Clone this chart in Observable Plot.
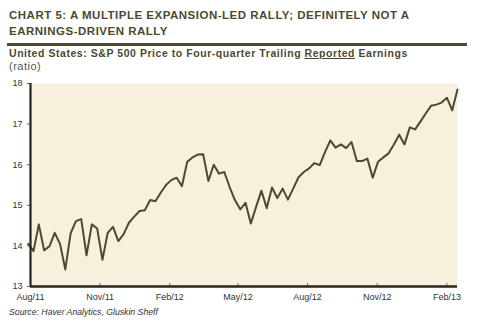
<!DOCTYPE html>
<html>
<head>
<meta charset="utf-8">
<script src="https://cdn.jsdelivr.net/npm/d3@7"></script>
<script src="https://cdn.jsdelivr.net/npm/@observablehq/plot@0.6"></script>
<style>
  html, body { margin: 0; padding: 0; background: #fff; }
  #wrap { position: relative; width: 478px; height: 323px; overflow: hidden; font-family: "Liberation Sans", Arial, sans-serif; }
  .t { position: absolute; white-space: nowrap; }
  #title { left: 9px; top: 8px; font-size: 11.5px; letter-spacing: 0.5px; font-weight: bold; color: #4b4a30; line-height: 15.5px; }
  #rule { position: absolute; left: 7px; top: 43px; width: 460px; height: 2.5px; background: #4b4a30; }
  #sub { left: 9px; top: 47px; font-size: 10.5px; letter-spacing: 0.55px; font-weight: bold; color: #4b4a30; }
  #unit { left: 9px; top: 60px; font-size: 11px; letter-spacing: 0.5px; color: #555; }
  #src { left: 9px; top: 307px; font-size: 8.7px; font-style: italic; color: #333; }
  #chart { position: absolute; left: 0; top: 70px; }
</style>
</head>
<body>
<div id="wrap">
  <div class="t" id="title">CHART 5: A MULTIPLE EXPANSION-LED RALLY; DEFINITELY NOT A<br>EARNINGS-DRIVEN RALLY</div>
  <div id="rule"></div>
  <div class="t" id="sub">United States: S&amp;P 500 Price to Four-quarter Trailing <u>Reported</u> Earnings</div>
  <div class="t" id="unit">(ratio)</div>
  <div id="chart"></div>
  <div class="t" id="src">Source: Haver Analytics, Gluskin Sheff</div>
</div>
<script>
const dates = [
  "2011-07-29","2011-08-05","2011-08-12","2011-08-19","2011-08-26","2011-09-02","2011-09-09","2011-09-16","2011-09-23","2011-09-30",
  "2011-10-07","2011-10-14","2011-10-21","2011-10-28","2011-11-04","2011-11-11","2011-11-18","2011-11-25","2011-12-02","2011-12-09",
  "2011-12-16","2011-12-23","2011-12-30","2012-01-06","2012-01-13","2012-01-20","2012-01-27","2012-02-03","2012-02-10","2012-02-17",
  "2012-02-24","2012-03-02","2012-03-09","2012-03-16","2012-03-23","2012-03-30","2012-04-06","2012-04-13","2012-04-20","2012-04-27",
  "2012-05-04","2012-05-11","2012-05-18","2012-05-25","2012-06-01","2012-06-08","2012-06-15","2012-06-22","2012-06-29","2012-07-06",
  "2012-07-13","2012-07-20","2012-07-27","2012-08-03","2012-08-10","2012-08-17","2012-08-24","2012-08-31","2012-09-07","2012-09-14",
  "2012-09-21","2012-09-28","2012-10-05","2012-10-12","2012-10-19","2012-10-26","2012-11-02","2012-11-09","2012-11-16","2012-11-23",
  "2012-11-30","2012-12-07","2012-12-14","2012-12-21","2012-12-28","2013-01-04","2013-01-11","2013-01-18","2013-01-25","2013-02-01",
  "2013-02-08","2013-02-15"
];
const ratio = [
  14.05,13.87,14.53,13.89,13.99,14.32,14.05,13.42,14.31,14.61,
  14.66,13.77,14.53,14.43,13.66,14.32,14.47,14.12,14.29,14.57,
  14.72,14.86,14.88,15.13,15.10,15.31,15.50,15.62,15.68,15.47,
  16.07,16.18,16.25,16.26,15.60,16.00,15.78,15.82,15.45,15.13,
  14.90,15.06,14.55,14.96,15.36,14.93,15.44,15.18,15.41,15.14,
  15.41,15.69,15.82,15.91,16.04,15.99,16.31,16.60,16.42,16.50,
  16.41,16.56,16.09,16.09,16.15,15.68,16.07,16.18,16.28,16.50,
  16.74,16.50,16.92,16.87,17.06,17.26,17.45,17.48,17.53,17.65,
  17.34,17.85
];
const xTicks = ["2011-08-01","2011-11-01","2012-02-01","2012-05-01","2012-08-01","2012-11-01","2013-02-01"];
const yTicks = [13, 14, 15, 16, 17, 18];
const xDomain = ["2011-08-01", "2013-02-15"];

const data = dates.map((d, i) => ({date: new Date(d), value: ratio[i]}));
const tickDates = xTicks.map(d => new Date(d));
const fmt = d3.utcFormat("%b/%y");

const chart = Plot.plot({
  width: 478,
  height: 240,
  marginLeft: 30,
  marginRight: 21,
  marginTop: 13,
  marginBottom: 24,
  style: {fontFamily: "'Liberation Sans', Arial, sans-serif", fontSize: "9px", color: "#333", background: "transparent", overflow: "visible"},
  x: {type: "utc", domain: xDomain.map(d => new Date(d)), ticks: tickDates, tickFormat: fmt, label: null},
  y: {domain: [13, 18], ticks: yTicks, label: null},
  marks: [
    Plot.frame({fill: "#f7f0dd", stroke: null}),
    Plot.axisY({ticks: yTicks, tickSize: 3, tickPadding: 5, tickFormat: d => d, stroke: "#666", label: null}),
    Plot.axisX({ticks: tickDates, tickSize: 0, tickPadding: 7, tickFormat: fmt, label: null}),
    Plot.ruleX(tickDates.slice(1), {x: d => d, y1: 13, y2: 13.07, stroke: "#666"}),
    Plot.line(data, {x: "date", y: "value", stroke: "#4b4a30", strokeWidth: 2, strokeLinejoin: "round"}),
    Plot.ruleX([new Date(xDomain[0])], {stroke: "#2b2518", strokeWidth: 2.2}),
    Plot.ruleY([13], {stroke: "#2b2518", strokeWidth: 2.5})
  ]
});
document.getElementById("chart").appendChild(chart);
</script>
</body>
</html>
